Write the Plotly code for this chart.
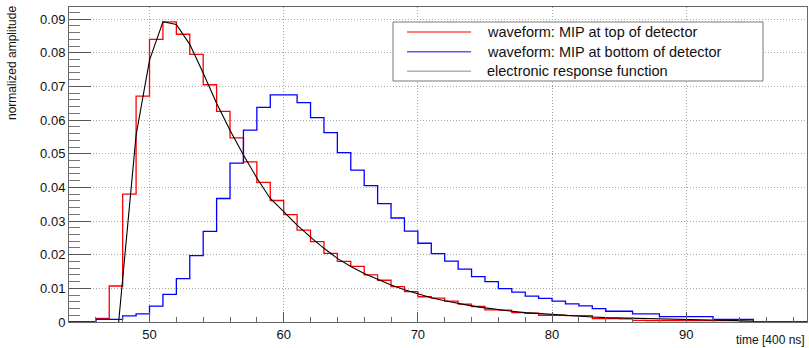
import plotly.graph_objects as go

# ---------------- data ----------------
bin_left = list(range(44, 99))  # 1-unit bins from 44 to 99
bin_right_edge = 99

red_top = [0, 0, 0.0011, 0.0107, 0.0380, 0.0671, 0.0840, 0.0892, 0.0855, 0.0795,
           0.0705, 0.0626, 0.0547, 0.0476, 0.0415, 0.0361, 0.0319, 0.0273, 0.0239, 0.0204,
           0.0180, 0.0165, 0.0140, 0.0124, 0.0105, 0.0090, 0.0075, 0.0071, 0.0062, 0.0053,
           0.0046, 0.0036, 0.0035, 0.0028, 0.0026, 0.0020, 0.0020, 0.0019, 0.0019, 0.0010,
           0.0010, 0.0009, 0.0005, 0.0004, 0.0004, 0.0004, 0.0004, 0.0004, 0.0004, 0.0004,
           0, 0, 0, 0, 0]

blue_bottom = [0, 0, 0.0008, 0.0008, 0.0018, 0.0024, 0.0047, 0.0082, 0.0129, 0.0197,
               0.0269, 0.0367, 0.0472, 0.0570, 0.0638, 0.0675, 0.0675, 0.0652, 0.0607, 0.0563,
               0.0503, 0.0451, 0.0405, 0.0352, 0.0309, 0.0270, 0.0234, 0.0203, 0.0181, 0.0157,
               0.0135, 0.0120, 0.0099, 0.0089, 0.0077, 0.0070, 0.0062, 0.0054, 0.0048, 0.0040,
               0.0032, 0.0032, 0.0024, 0.0024, 0.0016, 0.0016, 0.0016, 0.0016, 0.0008, 0.0008,
               0.0008, 0, 0, 0, 0]

resp_t = [47.7, 48, 49, 50, 51, 52, 53, 54, 55, 56, 57, 58, 59, 60, 61, 62, 63, 64, 65, 66,
          67, 68, 69, 70, 71, 72, 73, 74, 75, 76, 77, 78, 79, 80, 81, 82, 83, 84, 85, 86,
          87, 88, 89, 90, 91, 92, 93, 94, 95]
resp_v = [0.0, 0.0128, 0.0555, 0.0778, 0.0892, 0.0884, 0.0825, 0.0740, 0.0650, 0.0570,
          0.0496, 0.0428, 0.0367, 0.0328, 0.0288, 0.0252, 0.0219, 0.0189, 0.0165, 0.0144,
          0.0126, 0.0110, 0.0096, 0.0083, 0.0072, 0.0063, 0.0055, 0.0048, 0.0042, 0.0036,
          0.0032, 0.0028, 0.0025, 0.0022, 0.0020, 0.0017, 0.0015, 0.0013, 0.0012, 0.0010,
          0.0009, 0.0008, 0.0007, 0.0006, 0.0006, 0.0005, 0.0004, 0.0004, 0.0003]

x_ticks = [50, 60, 70, 80, 90]
legend_labels = ["waveform: MIP at top of detector",
                 "waveform: MIP at bottom of detector",
                 "electronic response function"]
x_title = "time [400 ns]"
y_title = "normalized amplitude"

# ---------------- layout geometry (pixels) ----------------
W, H = 809, 348
L, R, T, B = 69, 807, 7, 322
FONT = "Liberation Sans, Arial, Helvetica, sans-serif"


def px(xp):
    return (xp - L) / (R - L)


def py(yp):
    return (B - yp) / (B - T)


def steps(values):
    return bin_left + [bin_right_edge], values + [values[-1]]


fig = go.Figure()
xr, yr = steps(red_top)
fig.add_trace(go.Scatter(x=xr, y=yr, mode="lines", line=dict(color="#ff0000", width=1.3, shape="hv"),
                         name=legend_labels[0], showlegend=False, hoverinfo="skip"))
xb, yb = steps(blue_bottom)
fig.add_trace(go.Scatter(x=xb, y=yb, mode="lines", line=dict(color="#0000ff", width=1.3, shape="hv"),
                         name=legend_labels[1], showlegend=False, hoverinfo="skip"))
fig.add_trace(go.Scatter(x=resp_t, y=resp_v, mode="lines", line=dict(color="#000000", width=1.1),
                         name=legend_labels[2], showlegend=False, hoverinfo="skip"))

grid = dict(showgrid=True, gridcolor="#a8a8a8", griddash="1px,2px", gridwidth=1)
fig.update_xaxes(range=[44, 99], tickvals=x_ticks, ticks="inside", ticklen=10, tickcolor="#555",
                 tickwidth=1, showline=True, linecolor="#666", linewidth=1, mirror=True,
                 zeroline=False, tickfont=dict(family=FONT, size=13, color="#111"),
                 minor=dict(dtick=2, tick0=0, ticks="inside", ticklen=5, tickcolor="#666",
                            showgrid=False),
                 **grid)
fig.update_yaxes(range=[0, 0.0936], dtick=0.01, tick0=0, ticks="inside", ticklen=22, tickcolor="#555",
                 tickwidth=1, showline=True, linecolor="#666", linewidth=1, mirror=True,
                 zeroline=False, tickfont=dict(family=FONT, size=13, color="#111"),
                 minor=dict(dtick=0.002, tick0=0, ticks="inside", ticklen=11, tickcolor="#777",
                            showgrid=False),
                 **grid)

shapes = []
annotations = []
# legend box
shapes.append(dict(type="rect", xref="paper", yref="paper", x0=px(393), x1=px(763), y0=py(81), y1=py(22),
                   line=dict(color="#777", width=1), fillcolor="white", layer="above"))
leg_colors = ["#ff5050", "#5a5aff", "#b0b0b0"]
leg_y = [32, 51.7, 71.3]
for lab, col, yy in zip(legend_labels, leg_colors, leg_y):
    shapes.append(dict(type="line", xref="paper", yref="paper", x0=px(407), x1=px(471), y0=py(yy), y1=py(yy),
                       line=dict(color=col, width=1.6), layer="above"))
    annotations.append(dict(text=lab, xref="paper", yref="paper", x=px(485), y=py(yy), xanchor="left",
                            yanchor="middle", showarrow=False,
                            font=dict(family=FONT, size=14.5, color="#111")))

annotations.append(dict(text=x_title, xref="paper", yref="paper", x=1.0, y=py(340), xanchor="right",
                        yanchor="middle", showarrow=False, font=dict(family=FONT, size=12, color="#111")))
annotations.append(dict(text=y_title, xref="paper", yref="paper", x=px(12), y=py(4), xanchor="center",
                        yanchor="top", textangle=-90, showarrow=False,
                        font=dict(family=FONT, size=12, color="#111")))

fig.update_layout(width=W, height=H, margin=dict(l=L, r=W - R, t=T, b=H - B),
                  paper_bgcolor="white", plot_bgcolor="white", showlegend=False,
                  shapes=shapes, annotations=annotations)

fig.write_html("out.html", config={"displayModeBar": False},
               post_script="document.body.style.margin='0';document.body.style.overflow='hidden';")
